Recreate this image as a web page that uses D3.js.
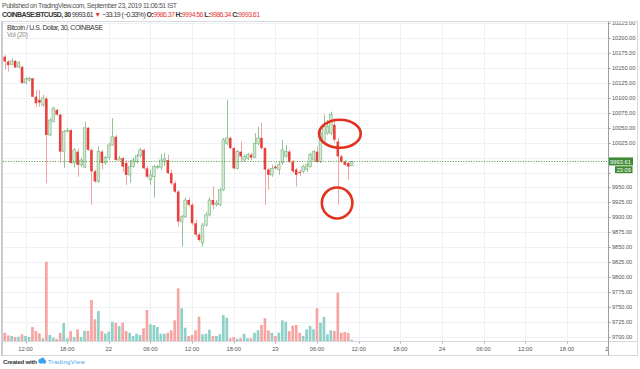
<!DOCTYPE html>
<html>
<head>
<meta charset="utf-8">
<script src="https://cdn.jsdelivr.net/npm/d3@7"></script>
<style>
  html, body { margin: 0; padding: 0; background: #fff; }
  svg { display: block; font-family: "Liberation Sans", Arial, sans-serif; }
</style>
</head>
<body>
<div id="chart"></div>
<script>
// 30 minute candles, first bar at 09:00 on Sept 21
const startTime = Date.UTC(2019, 8, 21, 9, 0);
const endTime = Date.UTC(2019, 8, 25, 0, 0);

const open = [
  10169, 10161, 10156, 10162, 10152, 10152, 10125, 10130, 10133, 10102,
  10097, 10088, 10099, 10038, 10060, 10080, 10072, 10010, 10044, 10046,
  9991, 10010, 9988, 9984, 10050, 10013, 9977, 9960, 10010, 9991,
  10000, 10021, 10035, 9996, 9999, 9991, 9971, 9985, 9993, 10003,
  10013, 9982, 9963, 9968, 9984, 9984, 9993, 9996, 9974, 9957,
  9943, 9893, 9901, 9929, 9921, 9890, 9871, 9857, 9887, 9904,
  9929, 9921, 9921, 9946, 10024, 10033, 10016, 9982, 10010, 9996,
  9999, 10005, 10000, 10024, 10033, 10016, 9980, 9971, 9985, 9980,
  9991, 10002, 10010, 9993, 9980, 9976, 9977, 9980, 9985, 9996,
  10010, 9993, 10024, 10041, 10041, 10055, 10027, 10002, 9993, 9991,
  9986.37
];
const high = [
  10172, 10164, 10167, 10164, 10162, 10154, 10135, 10135, 10133, 10113,
  10113, 10105, 10102, 10066, 10085, 10082, 10073, 10046, 10050, 10048,
  10016, 10015, 10000, 10060, 10051, 10015, 9980, 10019, 10013, 10003,
  10025, 10066, 10038, 10003, 10001, 9996, 9996, 10000, 10006, 10016,
  10015, 9986, 9980, 9988, 9988, 10006, 10008, 10005, 9980, 9961,
  9946, 9904, 9933, 9933, 9924, 9896, 9874, 9891, 9909, 9933,
  9952, 9929, 9949, 10033, 10097, 10035, 10018, 10013, 10027, 10005,
  10008, 10008, 10041, 10052, 10058, 10018, 9983, 9988, 9988, 9993,
  10030, 10021, 10013, 9996, 9983, 9980, 9988, 9991, 10008, 10013,
  10019, 10046, 10072, 10063, 10077, 10066, 10033, 10005, 9996, 9993,
  9994.56
];
const low = [
  10147, 10144, 10155, 10150, 10150, 10123, 10123, 10127, 10102, 10085,
  10085, 10085, 9957, 10036, 10060, 10070, 9991, 9983, 10042, 9990,
  9983, 9968, 9984, 9983, 10011, 9921, 9958, 9958, 9980, 9988,
  9996, 10020, 9995, 9995, 9976, 9954, 9958, 9983, 9990, 10000,
  9980, 9966, 9954, 9933, 9981, 9980, 9986, 9972, 9954, 9941,
  9885, 9851, 9899, 9918, 9887, 9867, 9859, 9851, 9884, 9901,
  9913, 9918, 9918, 9944, 10021, 10013, 9980, 9980, 9993, 9993,
  9996, 9995, 10000, 10021, 10013, 9921, 9946, 9968, 9980, 9971,
  9988, 10000, 9991, 9974, 9952, 9969, 9974, 9976, 9983, 9993,
  9991, 9991, 10021, 10038, 10038, 10026, 9921, 9991, 9986, 9963,
  9986.34
];
const close = [
  10161, 10155, 10162, 10151, 10159, 10125, 10132, 10133, 10102, 10091,
  10092, 10100, 10038, 10063, 10083, 10072, 10010, 10044, 10046, 9991,
  10013, 9988, 9996, 10050, 10013, 9977, 9960, 10010, 9991, 10000,
  10021, 10035, 9996, 9999, 9985, 9971, 9985, 9996, 10003, 10013,
  9982, 9968, 9971, 9985, 9985, 9996, 9998, 9974, 9957, 9943,
  9893, 9901, 9929, 9921, 9890, 9871, 9862, 9887, 9904, 9929,
  9921, 9924, 9946, 10030, 10033, 10016, 9982, 10010, 10002, 10002,
  10005, 10000, 10024, 10033, 10016, 9980, 9971, 9982, 9982, 9988,
  10013, 10010, 9993, 9977, 9971, 9974, 9985, 9988, 10005, 10010,
  9993, 10041, 10052, 10052, 10072, 10030, 10002, 9993, 9988, 9985,
  9993.61
];
const volume = [
  83, 57, 50, 40, 43, 67, 50, 40, 140, 100,
  77, 27, 793, 60, 33, 20, 80, 180, 27, 100,
  40, 117, 40, 100, 100, 410, 217, 300, 100, 73,
  93, 193, 183, 150, 183, 100, 83, 50, 73, 60,
  127, 310, 167, 160, 140, 73, 73, 83, 107, 207,
  527, 327, 133, 50, 60, 107, 243, 67, 73, 113,
  50, 50, 67, 260, 233, 27, 40, 23, 27, 73,
  27, 27, 83, 107, 160, 227, 107, 83, 50, 83,
  207, 193, 100, 153, 160, 83, 50, 117, 150, 117,
  327, 183, 240, 67, 107, 100, 483, 83, 90, 80,
  13
];

const priceTicks = [9700, 9725, 9750, 9775, 9800, 9825, 9850, 9875, 9900, 9925, 9950, 9975,
  10000, 10025, 10050, 10075, 10100, 10125, 10150, 10175, 10200, 10225];

const lastPrice = 9993.61;
const countdown = '23:09';

// hand drawn marks from the published idea: centre bar, centre price, radius in bars / price
const marks = [
  { bar: 96.6, price: 10040, rBars: 6, rPrice: 23.5 },
  { bar: 95.8, price: 9924, rBars: 4.4, rPrice: 26 },
];

const width = 640;
const height = 369;
const barStep = 3.47;
const halfMs = 30 * 60 * 1000;

const candles = open.map((o, i) => ({
  time: new Date(startTime + i * halfMs),
  open: o, high: high[i], low: low[i], close: close[i], volume: volume[i],
  up: close[i] >= o,
}));

const svg = d3.select('#chart').append('svg')
  .attr('width', width)
  .attr('height', height);

// stretch a text to a given width with letter spacing (no glyph squashing)
function fitWidth(sel, target) {
  const node = sel.node();
  const n = node.textContent.length;
  const w = node.getComputedTextLength();
  if (n > 1) sel.attr('letter-spacing', ((target - w) / (n - 1)).toFixed(3));
  return sel;
}

const x = d3.scaleUtc()
  .domain([new Date(startTime), new Date(endTime)])
  .range([4.7, 4.7 + barStep * (endTime - startTime) / halfMs]);
const y = d3.scaleLinear().domain([9700, 10225]).range([336.7, 23.3]);
const yVol = d3.scaleLinear().domain([0, 800]).range([341, 261]);

const plotLeft = 3, plotRight = 608, plotTop = 22, plotBottom = 341;

// ---- header ----
const header = svg.append('g').attr('font-size', 6.9);
fitWidth(header.append('text')
  .attr('x', 2).attr('y', 8)
  .attr('fill', '#555')
  .text('Published on TradingView.com, September 23, 2019 11:06:51 IST'), 175);

const line2 = header.append('text').attr('x', 2).attr('y', 16.5).attr('fill', '#333');
line2.append('tspan').attr('font-weight', 'bold').text('COINBASE:BTCUSD, 30 ');
line2.append('tspan').text('9993.61 ');
line2.append('tspan').attr('fill', '#e53935').text('▼ ');
line2.append('tspan').text('−33.19 (−0.33%) ');
[['O:', '9986.37 '], ['H:', '9994.56 '], ['L:', '9986.34 '], ['C:', '9993.61']].forEach(([k, v]) => {
  line2.append('tspan').attr('font-weight', 'bold').text(k);
  line2.append('tspan').attr('fill', '#e53935').text(v);
});
fitWidth(line2, 258);

// ---- grid ----
const grid = svg.append('g').attr('stroke', '#edf1f6').attr('stroke-width', 1);
grid.selectAll('line.h')
  .data(priceTicks)
  .enter()
  .append('line')
  .attr('x1', plotLeft).attr('x2', plotRight)
  .attr('y1', d => Math.round(y(d)) + 0.5)
  .attr('y2', d => Math.round(y(d)) + 0.5);

const timeTicks = x.ticks(d3.utcHour.every(6)).filter(d => x(d) > plotLeft && x(d) <= plotRight + 2);
grid.selectAll('line.v')
  .data(timeTicks)
  .enter()
  .append('line')
  .attr('x1', d => Math.round(x(d)) + 0.5)
  .attr('x2', d => Math.round(x(d)) + 0.5)
  .attr('y1', plotTop).attr('y2', plotBottom);

// ---- volume ----
const barW = 2.7;
svg.append('g')
  .selectAll('rect')
  .data(candles)
  .enter()
  .append('rect')
  .attr('x', d => x(d.time) - barW / 2)
  .attr('width', barW)
  .attr('y', d => yVol(d.volume))
  .attr('height', d => yVol(0) - yVol(d.volume))
  .attr('fill', d => (d.up ? '#8fd1c9' : '#f6a5a3'));

// ---- candles ----
const candleG = svg.append('g')
  .selectAll('g')
  .data(candles)
  .enter()
  .append('g');

candleG.append('line')
  .attr('x1', d => Math.round(x(d.time)) + 0.5)
  .attr('x2', d => Math.round(x(d.time)) + 0.5)
  .attr('y1', d => y(d.high))
  .attr('y2', d => y(d.low))
  .attr('stroke', d => (d.up ? '#92c495' : '#f3a3a3'))
  .attr('stroke-width', 1);

const bodyW = 2.6;
candleG.append('rect')
  .attr('x', d => x(d.time) - bodyW / 2)
  .attr('width', bodyW)
  .attr('y', d => y(Math.max(d.open, d.close)))
  .attr('height', d => Math.max(1, Math.abs(y(d.open) - y(d.close))))
  .attr('fill', d => (d.up ? '#d3e9d4' : '#e8403d'))
  .attr('stroke', d => (d.up ? '#86bb8a' : 'none'))
  .attr('stroke-width', 0.7);

// ---- last price line ----
svg.append('line')
  .attr('x1', plotLeft).attr('x2', plotRight)
  .attr('y1', Math.round(y(lastPrice)) + 0.5)
  .attr('y2', Math.round(y(lastPrice)) + 0.5)
  .attr('stroke', '#4e9a3a')
  .attr('stroke-width', 1)
  .attr('stroke-dasharray', '1,1.6');

// ---- marks ----
svg.append('g')
  .selectAll('ellipse')
  .data(marks)
  .enter()
  .append('ellipse')
  .attr('cx', d => x(new Date(startTime + d.bar * halfMs)))
  .attr('cy', d => y(d.price))
  .attr('rx', d => d.rBars * barStep)
  .attr('ry', d => y(d.price - d.rPrice) - y(d.price))
  .attr('fill', 'none')
  .attr('stroke', '#e2321f')
  .attr('stroke-width', 2.6);

// ---- time axis ----
const fmtTime = d => (d.getUTCHours() === 0 ? d3.utcFormat('%-d')(d) : d3.utcFormat('%H:%M')(d));
svg.append('rect').attr('x', plotLeft).attr('y', plotBottom).attr('width', plotRight - plotLeft).attr('height', 14).attr('fill', '#fff');
svg.append('g')
  .selectAll('line')
  .data(timeTicks)
  .enter()
  .append('line')
  .attr('x1', d => Math.round(x(d)) + 0.5)
  .attr('x2', d => Math.round(x(d)) + 0.5)
  .attr('y1', plotBottom).attr('y2', plotBottom + 2.5)
  .attr('stroke', '#aaa');
svg.append('g')
  .attr('font-size', 5.8)
  .attr('fill', '#555')
  .attr('text-anchor', 'middle')
  .selectAll('text')
  .data(timeTicks)
  .enter()
  .append('text')
  .attr('x', d => x(d))
  .attr('y', plotBottom + 9.5)
  .text(fmtTime);

// ---- price axis ----
const ly = y(lastPrice);
// labels sitting under the last price / countdown boxes are hidden, as on the platform
const visibleTicks = priceTicks.filter(d => Math.abs(y(d) - ly) > 13);
svg.append('rect').attr('x', plotRight).attr('y', plotTop).attr('width', 29).attr('height', 333).attr('fill', '#fff');
const priceAxis = svg.append('g').attr('font-size', 5.6).attr('fill', '#555');
priceAxis.selectAll('line')
  .data(priceTicks)
  .enter()
  .append('line')
  .attr('x1', plotRight).attr('x2', plotRight + 2.5)
  .attr('y1', d => Math.round(y(d)) + 0.5)
  .attr('y2', d => Math.round(y(d)) + 0.5)
  .attr('stroke', '#999');
priceAxis.selectAll('text')
  .data(visibleTicks)
  .enter()
  .append('text')
  .attr('x', plotRight + 4)
  .attr('y', d => y(d) + 2)
  .text(d => d3.format('.2f')(d));

// last price label + countdown
svg.append('rect').attr('x', plotRight).attr('y', ly - 4).attr('width', 25).attr('height', 8).attr('fill', '#3d8c34');
svg.append('text').attr('x', plotRight + 12.5).attr('y', ly + 2.1).attr('text-anchor', 'middle')
  .attr('font-size', 5.8).attr('fill', '#fff').text(d3.format('.2f')(lastPrice));
svg.append('rect').attr('x', plotRight + 7).attr('y', ly + 4.8).attr('width', 17.5).attr('height', 7).attr('fill', '#3d8c34');
svg.append('text').attr('x', plotRight + 15.75).attr('y', ly + 10.4).attr('text-anchor', 'middle')
  .attr('font-size', 5.6).attr('fill', '#fff').text(countdown);

// ---- frame ----
const frame = svg.append('g').attr('fill', 'none').attr('stroke', '#d5d9de').attr('stroke-width', 1);
frame.append('rect').attr('x', 2.5).attr('y', 21.5).attr('width', 635).attr('height', 334);
frame.append('line').attr('x1', 2.5).attr('x2', 637.5).attr('y1', plotBottom + 0.5).attr('y2', plotBottom + 0.5);
frame.append('line').attr('x1', plotRight + 0.5).attr('x2', plotRight + 0.5).attr('y1', 21.5).attr('y2', 355.5).attr('stroke', '#9a9fa6');
svg.append('line').attr('x1', 2).attr('x2', 2).attr('y1', 21).attr('y2', 356).attr('stroke', '#c8ccd1').attr('stroke-width', 2);

// ---- legend ----
fitWidth(svg.append('text').attr('x', 7).attr('y', 29.8).attr('font-size', 6.9).attr('fill', '#333')
  .text('Bitcoin / U.S. Dollar, 30, COINBASE'), 96);
fitWidth(svg.append('text').attr('x', 7).attr('y', 36.8).attr('font-size', 6.6).attr('fill', '#888')
  .text('Vol (20)'), 21);

// ---- footer ----
const footer = svg.append('g').attr('font-size', 6.1);
fitWidth(footer.append('text').attr('x', 3).attr('y', 364).attr('fill', '#333').attr('font-weight', 'bold')
  .text('Created with'), 34);
const logo = footer.append('g').attr('transform', 'translate(41,360.5)').attr('fill', '#3fa1e8');
logo.append('circle').attr('cx', 0).attr('cy', 0.5).attr('r', 2.6);
logo.append('circle').attr('cx', 3.2).attr('cy', 1.2).attr('r', 2);
logo.append('circle').attr('cx', 1.8).attr('cy', -1.3).attr('r', 1.8);
fitWidth(footer.append('text').attr('x', 48).attr('y', 364).attr('fill', '#3fa1e8')
  .text('TradingView'), 37);
</script>
</body>
</html>
